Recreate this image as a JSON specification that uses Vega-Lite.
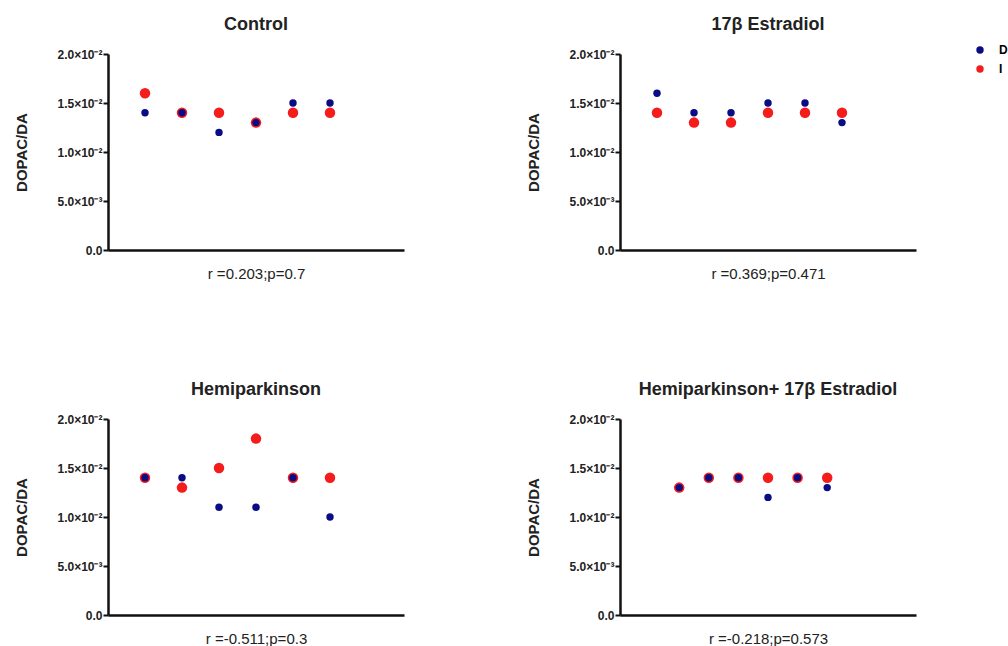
{
  "$schema": "https://vega.github.io/schema/vega-lite/v6.json",
  "background": "white",
  "padding": {"left": 14, "top": 16, "right": 0, "bottom": 0},
  "data": {"values": [
    {"panel": "Control", "subject": 1, "side": "I", "value": 0.016},
    {"panel": "Control", "subject": 2, "side": "I", "value": 0.014},
    {"panel": "Control", "subject": 3, "side": "I", "value": 0.014},
    {"panel": "Control", "subject": 4, "side": "I", "value": 0.013},
    {"panel": "Control", "subject": 5, "side": "I", "value": 0.014},
    {"panel": "Control", "subject": 6, "side": "I", "value": 0.014},
    {"panel": "Control", "subject": 1, "side": "D", "value": 0.014},
    {"panel": "Control", "subject": 2, "side": "D", "value": 0.014},
    {"panel": "Control", "subject": 3, "side": "D", "value": 0.012},
    {"panel": "Control", "subject": 4, "side": "D", "value": 0.013},
    {"panel": "Control", "subject": 5, "side": "D", "value": 0.015},
    {"panel": "Control", "subject": 6, "side": "D", "value": 0.015},
    {"panel": "E2", "subject": 1, "side": "I", "value": 0.014},
    {"panel": "E2", "subject": 2, "side": "I", "value": 0.013},
    {"panel": "E2", "subject": 3, "side": "I", "value": 0.013},
    {"panel": "E2", "subject": 4, "side": "I", "value": 0.014},
    {"panel": "E2", "subject": 5, "side": "I", "value": 0.014},
    {"panel": "E2", "subject": 6, "side": "I", "value": 0.014},
    {"panel": "E2", "subject": 1, "side": "D", "value": 0.016},
    {"panel": "E2", "subject": 2, "side": "D", "value": 0.014},
    {"panel": "E2", "subject": 3, "side": "D", "value": 0.014},
    {"panel": "E2", "subject": 4, "side": "D", "value": 0.015},
    {"panel": "E2", "subject": 5, "side": "D", "value": 0.015},
    {"panel": "E2", "subject": 6, "side": "D", "value": 0.013},
    {"panel": "HP", "subject": 1, "side": "I", "value": 0.014},
    {"panel": "HP", "subject": 2, "side": "I", "value": 0.013},
    {"panel": "HP", "subject": 3, "side": "I", "value": 0.015},
    {"panel": "HP", "subject": 4, "side": "I", "value": 0.018},
    {"panel": "HP", "subject": 5, "side": "I", "value": 0.014},
    {"panel": "HP", "subject": 6, "side": "I", "value": 0.014},
    {"panel": "HP", "subject": 1, "side": "D", "value": 0.014},
    {"panel": "HP", "subject": 2, "side": "D", "value": 0.014},
    {"panel": "HP", "subject": 3, "side": "D", "value": 0.011},
    {"panel": "HP", "subject": 4, "side": "D", "value": 0.011},
    {"panel": "HP", "subject": 5, "side": "D", "value": 0.014},
    {"panel": "HP", "subject": 6, "side": "D", "value": 0.010},
    {"panel": "HPE2", "subject": 1, "side": "I", "value": 0.013},
    {"panel": "HPE2", "subject": 2, "side": "I", "value": 0.014},
    {"panel": "HPE2", "subject": 3, "side": "I", "value": 0.014},
    {"panel": "HPE2", "subject": 4, "side": "I", "value": 0.014},
    {"panel": "HPE2", "subject": 5, "side": "I", "value": 0.014},
    {"panel": "HPE2", "subject": 6, "side": "I", "value": 0.014},
    {"panel": "HPE2", "subject": 1, "side": "D", "value": 0.013},
    {"panel": "HPE2", "subject": 2, "side": "D", "value": 0.014},
    {"panel": "HPE2", "subject": 3, "side": "D", "value": 0.014},
    {"panel": "HPE2", "subject": 4, "side": "D", "value": 0.012},
    {"panel": "HPE2", "subject": 5, "side": "D", "value": 0.014},
    {"panel": "HPE2", "subject": 6, "side": "D", "value": 0.013}
  ]},
  "columns": 2,
  "spacing": {"row": 100, "column": 122},
  "concat": [
    {
      "title": "Control",
      "width": 296, "height": 196,
      "transform": [{"filter": "datum.panel == 'Control'"}],
      "mark": {"type": "point", "filled": true, "opacity": 1},
      "encoding": {
        "x": {"field": "subject", "type": "quantitative", "scale": {"domain": [0, 8]}, "axis": {"title": "r =0.203;p=0.7"}},
        "y": {"field": "value", "type": "quantitative", "scale": {"domain": [0, 0.02]}, "axis": {"title": "DOPAC/DA"}},
        "color": {"field": "side", "type": "nominal", "scale": {"domain": ["D", "I"], "range": ["#0b0b86", "#f51c1c"]}},
        "size": {"condition": {"test": "datum.side == 'I'", "value": 110}, "value": 55}
      }
    },
    {
      "title": "17β Estradiol",
      "width": 296, "height": 196,
      "transform": [{"filter": "datum.panel == 'E2'"}],
      "mark": {"type": "point", "filled": true, "opacity": 1},
      "encoding": {
        "x": {"field": "subject", "type": "quantitative", "scale": {"domain": [0, 8]}, "axis": {"title": "r =0.369;p=0.471"}},
        "y": {"field": "value", "type": "quantitative", "scale": {"domain": [0, 0.02]}, "axis": {"title": "DOPAC/DA"}},
        "color": {"field": "side", "type": "nominal", "scale": {"domain": ["D", "I"], "range": ["#0b0b86", "#f51c1c"]}},
        "size": {"condition": {"test": "datum.side == 'I'", "value": 110}, "value": 55}
      }
    },
    {
      "title": "Hemiparkinson",
      "width": 296, "height": 196,
      "transform": [{"filter": "datum.panel == 'HP'"}],
      "mark": {"type": "point", "filled": true, "opacity": 1},
      "encoding": {
        "x": {"field": "subject", "type": "quantitative", "scale": {"domain": [0, 8]}, "axis": {"title": "r =-0.511;p=0.3"}},
        "y": {"field": "value", "type": "quantitative", "scale": {"domain": [0, 0.02]}, "axis": {"title": "DOPAC/DA"}},
        "color": {"field": "side", "type": "nominal", "scale": {"domain": ["D", "I"], "range": ["#0b0b86", "#f51c1c"]}},
        "size": {"condition": {"test": "datum.side == 'I'", "value": 110}, "value": 55}
      }
    },
    {
      "title": "Hemiparkinson+ 17β Estradiol",
      "width": 296, "height": 196,
      "transform": [{"filter": "datum.panel == 'HPE2'"}],
      "mark": {"type": "point", "filled": true, "opacity": 1},
      "encoding": {
        "x": {"field": "subject", "type": "quantitative", "scale": {"domain": [-1, 9]}, "axis": {"title": "r =-0.218;p=0.573"}},
        "y": {"field": "value", "type": "quantitative", "scale": {"domain": [0, 0.02]}, "axis": {"title": "DOPAC/DA"}},
        "color": {"field": "side", "type": "nominal", "scale": {"domain": ["D", "I"], "range": ["#0b0b86", "#f51c1c"]}},
        "size": {"condition": {"test": "datum.side == 'I'", "value": 110}, "value": 55}
      }
    }
  ],
  "resolve": {"scale": {"x": "independent"}},
  "config": {
    "view": {"stroke": null},
    "font": "Liberation Sans",
    "title": {"fontSize": 18, "fontWeight": "bold", "color": "#222", "offset": 14, "anchor": "middle", "font": "Liberation Sans"},
    "axis": {"grid": false, "domainColor": "#111", "domainWidth": 2.5, "tickColor": "#111", "tickWidth": 2, "tickSize": 5, "labelFont": "Liberation Sans", "titleFont": "Liberation Sans", "titleColor": "#222", "labelColor": "#222"},
    "axisX": {"ticks": false, "labels": false, "titleFontWeight": "normal", "titleFontSize": 15, "titlePadding": 16},
    "axisY": {"values": [0, 0.005, 0.01, 0.015, 0.02], "labelFontWeight": "bold", "labelFontSize": 12, "labelPadding": 1, "titleFontSize": 15, "titleFontWeight": "bold", "titlePadding": 27,
      "labelExpr": "datum.value == 0 ? '0.0' : datum.value < 0.007 ? '5.0×10⁻³' : datum.value < 0.012 ? '1.0×10⁻²' : datum.value < 0.017 ? '1.5×10⁻²' : '2.0×10⁻²'"},
    "legend": {"orient": "none", "legendX": 866, "legendY": -10, "title": null, "symbolType": "circle", "symbolSize": 55, "labelFontWeight": "bold", "labelFontSize": 12, "labelFont": "Liberation Sans", "rowPadding": 7, "padding": 0, "labelOffset": 13}
  }
}
